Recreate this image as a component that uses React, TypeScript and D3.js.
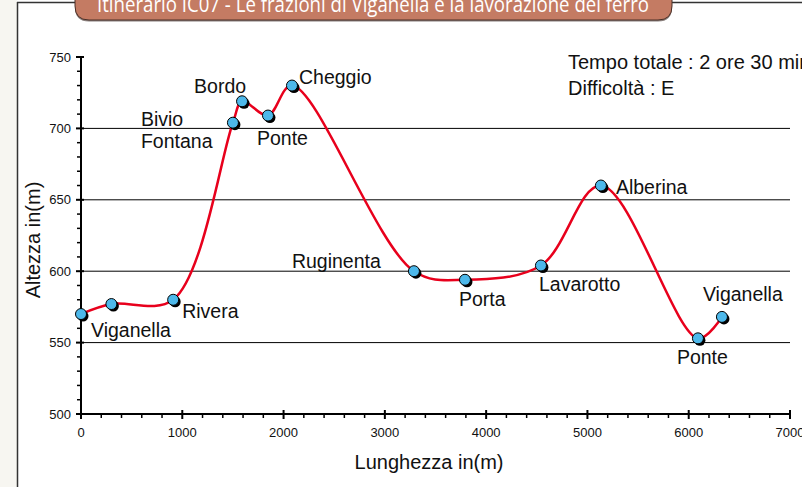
import React from "react";
import * as d3 from "d3";

const distances = [0, 300, 910, 1500, 1590, 1846, 2083, 3287, 3791, 4541, 5133, 6091, 6328];
const altitudes = [570, 577, 580, 704, 719, 709, 730, 600, 594, 604, 660, 553, 568];
const placeNames = ["Viganella", "", "Rivera", "Bivio\nFontana", "Bordo", "Ponte", "Cheggio", "Ruginenta", "Porta", "Lavarotto", "Alberina", "Ponte", "Viganella"];
// label offsets (px) relative to point: [dx, dy, anchor]
const labelOffsets: [number, number, string][] = [
  [10, 23, "start"], [0, 0, "start"], [9, 18, "start"], [-92, 3, "start"],
  [-48, -8, "start"], [-11, 29, "start"], [7, -2, "start"], [-122, -3, "start"],
  [-6, 26, "start"], [-2, 26, "start"], [15, 8, "start"], [-21, 26, "start"], [-19, -16, "start"],
];
const xTicks = [0, 1000, 2000, 3000, 4000, 5000, 6000, 7000];
const yTicks = [500, 550, 600, 650, 700, 750];
const gridValues = [550, 600, 650, 700];
const title = "Itinerario IC07 - Le frazioni di Viganella e la lavorazione del ferro";
const infoLines = ["Tempo totale : 2 ore 30 min", "Difficoltà : E"];

export default function App() {
  const W = 802, H = 487;
  const x = d3.scaleLinear().domain([0, 7000]).range([81, 790]);
  const y = d3.scaleLinear().domain([500, 750]).range([414, 57]);
  const pts = distances.map((d, i) => [x(d), y(altitudes[i])] as [number, number]);
  const line = d3.line().curve(d3.curveCatmullRom.alpha(0.5))(pts) || "";
  const xMinor = d3.range(0, 7001, 200).filter((v) => v % 1000 !== 0);
  const yMinor = d3.range(500, 751, 10).filter((v) => v % 50 !== 0);
  const font = "'Liberation Sans', Arial, sans-serif";
  const bannerPath = (() => {
    const l = 75, r = 672, t = -10, b = 20, rad = 14;
    return `M${l},${t} L${l},${b - rad} Q${l},${b} ${l + rad},${b} L${r - rad},${b} Q${r},${b} ${r},${b - rad} L${r},${t} Z`;
  })();
  return (
    <svg width={W} height={H} style={{ position: "absolute", left: 0, top: 0, background: "#fff" }} fontFamily={font}>
      <rect x={0} y={0} width={17} height={H} fill="#f7f6f1" />
      <line x1={17.5} y1={2} x2={17.5} y2={H} stroke="#333" strokeWidth={1.5} />
      <line x1={17} y1={2.5} x2={W} y2={2.5} stroke="#333" strokeWidth={1.5} />
      <path d={bannerPath} transform="translate(0,1.5)" fill="#3a2a24" opacity={0.6} />
      <path d={bannerPath} fill="#c47b63" stroke="#4a3028" strokeWidth={1} />
      <text x={373} y={12} textAnchor="middle" fill="#fff" fontSize={22} fontFamily="'Open Sans', 'Noto Sans', sans-serif" textLength={552} lengthAdjust="spacingAndGlyphs">{title}</text>

      {gridValues.map((v) => (
        <line key={v} x1={x(0)} x2={x(7000)} y1={y(v)} y2={y(v)} stroke="#000" strokeWidth={1} />
      ))}

      {/* y axis */}
      <line x1={x(0)} x2={x(0)} y1={y(750) - 1} y2={y(500) + 1} stroke="#000" strokeWidth={2} />
      {yMinor.map((v) => (
        <line key={v} x1={x(0) - 4} x2={x(0)} y1={y(v)} y2={y(v)} stroke="#000" strokeWidth={1.5} />
      ))}
      {yTicks.map((v) => (
        <g key={v}>
          <line x1={x(0) - 5} x2={x(0) + 3} y1={y(v)} y2={y(v)} stroke="#000" strokeWidth={2} />
          <text x={71} y={y(v) + 4.5} textAnchor="end" fontSize={13} fill="#111">{v}</text>
        </g>
      ))}

      {/* x axis */}
      <line x1={x(0) - 1} x2={x(7000) + 1} y1={y(500)} y2={y(500)} stroke="#000" strokeWidth={2} />
      {xMinor.map((v) => (
        <line key={v} x1={x(v)} x2={x(v)} y1={y(500)} y2={y(500) + 4} stroke="#000" strokeWidth={1.5} />
      ))}
      {xTicks.map((v) => (
        <g key={v}>
          <line x1={x(v)} x2={x(v)} y1={y(500) - 4} y2={y(500) + 5} stroke="#000" strokeWidth={2} />
          <text x={x(v)} y={437} textAnchor="middle" fontSize={13} fill="#111">{v}</text>
        </g>
      ))}

      <text x={429} y={469} textAnchor="middle" fontSize={20} fill="#111">Lunghezza in(m)</text>
      <text transform="translate(40,240) rotate(-90)" textAnchor="middle" fontSize={20} fill="#111">Altezza in(m)</text>

      <path d={line} fill="none" stroke="#e8001c" strokeWidth={2.5} />
      {pts.map(([px, py], i) => (
        <g key={i}>
          <circle cx={px + 2} cy={py + 2} r={5.5} fill="#000" />
          <circle cx={px} cy={py} r={5.5} fill="#4db8ea" stroke="#000" strokeWidth={1} />
        </g>
      ))}
      {pts.map(([px, py], i) => {
        const name = placeNames[i];
        if (!name) return null;
        const [dx, dy, anchor] = labelOffsets[i];
        const parts = name.split("\n");
        return (
          <text key={"l" + i} x={px + dx} y={py + dy} textAnchor={anchor as any} fontSize={19.5} fill="#111">
            {parts.map((p, j) => (
              <tspan key={j} x={px + dx} dy={j === 0 ? 0 : 22}>{p}</tspan>
            ))}
          </text>
        );
      })}

      {infoLines.map((t, i) => (
        <text key={i} x={568} y={69 + i * 26} fontSize={20} fill="#111">{t}</text>
      ))}
    </svg>
  );
}
